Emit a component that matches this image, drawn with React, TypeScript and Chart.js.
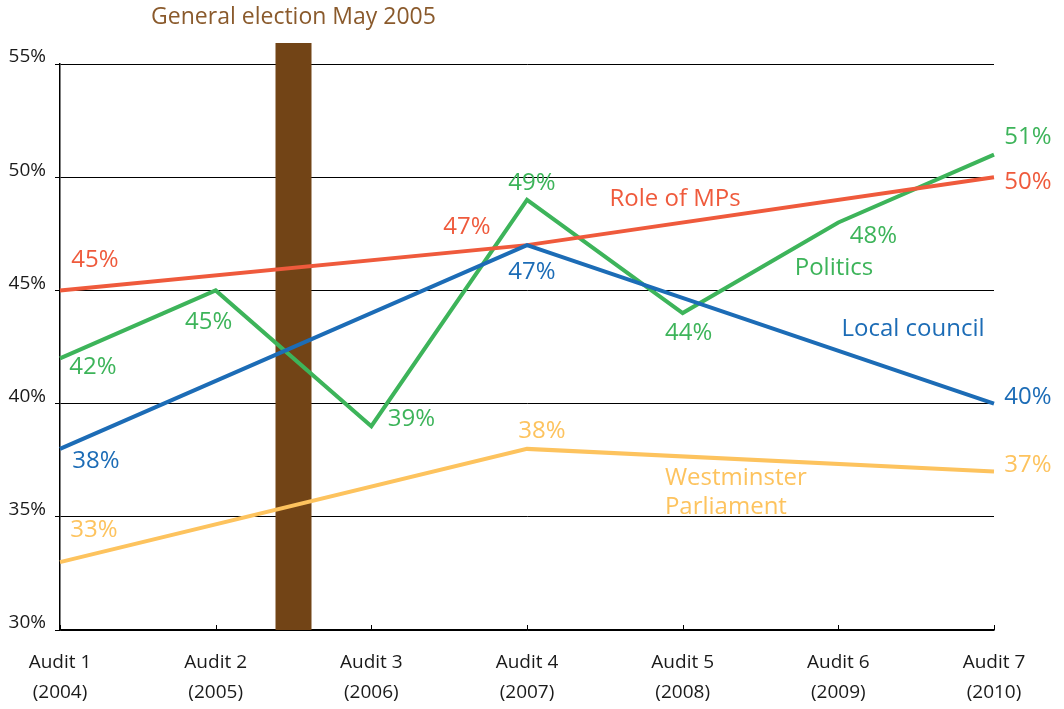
import React, { useEffect, useRef } from "react";
import { Chart, registerables } from "chart.js";

Chart.register(...registerables);

// ---------- data ----------
const audits = ["Audit 1", "Audit 2", "Audit 3", "Audit 4", "Audit 5", "Audit 6", "Audit 7"];
const years = ["(2004)", "(2005)", "(2006)", "(2007)", "(2008)", "(2009)", "(2010)"];

const roleOfMPs = [45, null, null, 47, null, null, 50];
const localCouncil = [38, null, null, 47, null, null, 40];
const politics = [42, 45, 39, 49, 44, 48, 51];
const westminster = [33, null, null, 38, null, null, 37];

const yTicks = [30, 35, 40, 45, 50, 55];

const electionLabel = "General election May 2005";
const electionPosition = 1.5; // between Audit 2 and Audit 3

// ---------- style ----------
const FONT = "'Open Sans', 'Noto Sans', sans-serif";
const RED = "#EF5A3C";
const GREEN = "#3DB45A";
const BLUE = "#1C6CB6";
const YELLOW = "#FDC35E";
const BROWN = "#724416";
const BROWN_TEXT = "#8A5A2C";

// label offsets (px) relative to each point: [dx, dy] of label centre
const redOffsets = [[35, -30], null, null, [-60, -18], null, null, [34, 5]];
const blueOffsets = [[36, 12], null, null, [5, 27], null, null, [34, -6]];
const greenOffsets = [[33, 9], [-7, 32], [40, -7], [5, -17], [6, 20], [35, 14], [34, -17]];
const yellowOffsets = [[34, -32], null, null, [15, -18], null, null, [34, -6]];

// series name annotations in data coordinates (x index, y value), left-aligned
const seriesNames = [
  { lines: ["Role of MPs"], x: 3.53, y: 49.05, color: RED },
  { lines: ["Politics"], x: 4.72, y: 46.0, color: GREEN },
  { lines: ["Local council"], x: 5.02, y: 43.3, color: BLUE },
  { lines: ["Westminster", "Parliament"], x: 3.886, y: 36.72, color: YELLOW },
];

const annotationPlugin = {
  id: "annotations",
  beforeDatasetsDraw(chart: any) {
    const { ctx, chartArea, scales } = chart;
    const xs = scales.x;
    const cx = xs.getPixelForValue(electionPosition);
    const w = 36;
    ctx.save();
    ctx.fillStyle = BROWN;
    ctx.fillRect(cx - w / 2, chartArea.top - 21, w, chartArea.bottom - (chartArea.top - 21));
    ctx.fillStyle = BROWN_TEXT;
    ctx.font = `23px ${FONT}`;
    ctx.textAlign = "center";
    ctx.textBaseline = "middle";
    ctx.fillText(electionLabel, cx, 17);
    // small upward tick marks on x axis
    ctx.strokeStyle = "#000";
    ctx.lineWidth = 1;
    for (let i = 0; i < audits.length; i++) {
      const px = Math.round(xs.getPixelForValue(i)) + 0.5;
      ctx.beginPath();
      ctx.moveTo(px, chartArea.bottom);
      ctx.lineTo(px, chartArea.bottom - 5);
      ctx.stroke();
    }
    ctx.restore();
  },
  afterDatasetsDraw(chart: any) {
    const { ctx, scales } = chart;
    const xs = scales.x;
    const ys = scales.y;
    ctx.save();
    ctx.font = `24px ${FONT}`;
    ctx.textAlign = "center";
    ctx.textBaseline = "middle";
    chart.data.datasets.forEach((ds: any) => {
      ds.data.forEach((v: any, i: number) => {
        if (v === null || v === undefined) return;
        const off = ds.labelOffsets[i];
        if (!off) return;
        ctx.fillStyle = ds.borderColor;
        ctx.fillText(`${v}%`, xs.getPixelForValue(i) + off[0], ys.getPixelForValue(v) + off[1]);
      });
    });
    ctx.textAlign = "left";
    seriesNames.forEach((s) => {
      ctx.fillStyle = s.color;
      const px = xs.getPixelForValue(s.x);
      const py = ys.getPixelForValue(s.y);
      s.lines.forEach((ln, k) => ctx.fillText(ln, px, py + k * 29));
    });
    ctx.restore();
  },
};

export default function App() {
  const ref = useRef<HTMLCanvasElement>(null);

  useEffect(() => {
    if (!ref.current) return;
    const mk = (label: string, data: any[], color: string, offsets: any[]) => ({
      label,
      data,
      borderColor: color,
      backgroundColor: color,
      borderWidth: 4,
      pointRadius: 0,
      pointHoverRadius: 0,
      spanGaps: true,
      tension: 0,
      labelOffsets: offsets,
    });
    const chart = new Chart(ref.current, {
      type: "line",
      data: {
        labels: audits.map((a, i) => [a, years[i]]),
        datasets: [
          mk("Westminster Parliament", westminster, YELLOW, yellowOffsets),
          mk("Local council", localCouncil, BLUE, blueOffsets),
          mk("Role of MPs", roleOfMPs, RED, redOffsets),
          mk("Politics", politics, GREEN, greenOffsets),
        ] as any,
      },
      options: {
        responsive: false,
        animation: false,
        devicePixelRatio: 1,
        layout: { padding: { left: 0, top: 64, right: 70, bottom: 0 } },
        plugins: {
          legend: { display: false },
          tooltip: { enabled: false },
          title: { display: false },
        },
        scales: {
          x: {
            type: "category",
            offset: false,
            grid: { display: false, drawTicks: false, tickLength: 0 },
            border: { display: true, color: "#000", width: 1.5 },
            ticks: {
              autoSkip: false,
              maxRotation: 0,
              minRotation: 0,
              padding: 18,
              color: "#1a1a1a",
              font: { family: FONT, size: 19, weight: "400", lineHeight: 1.58 },
            },
            afterFit(scale: any) {
              scale.height = 79;
            },
          },
          y: {
            min: 30,
            max: 55,
            afterBuildTicks(scale: any) {
              scale.ticks = yTicks.map((v) => ({ value: v }));
            },
            grid: { color: "#000", lineWidth: 1, drawTicks: true, tickLength: 5 },
            border: { display: true, color: "#000", width: 1.5 },
            ticks: {
              padding: 9,
              labelOffset: -7,
              color: "#1a1a1a",
              font: { family: FONT, size: 19, weight: "400" },
              callback: (v: any) => `${v}%`,
            },
            afterFit(scale: any) {
              scale.width = 60;
            },
          },
        },
      },
      plugins: [annotationPlugin],
    });
    return () => chart.destroy();
  }, []);

  return (
    <canvas
      ref={ref}
      width={1064}
      height={709}
      style={{ position: "absolute", left: 0, top: 0, width: 1064, height: 709 }}
    />
  );
}
